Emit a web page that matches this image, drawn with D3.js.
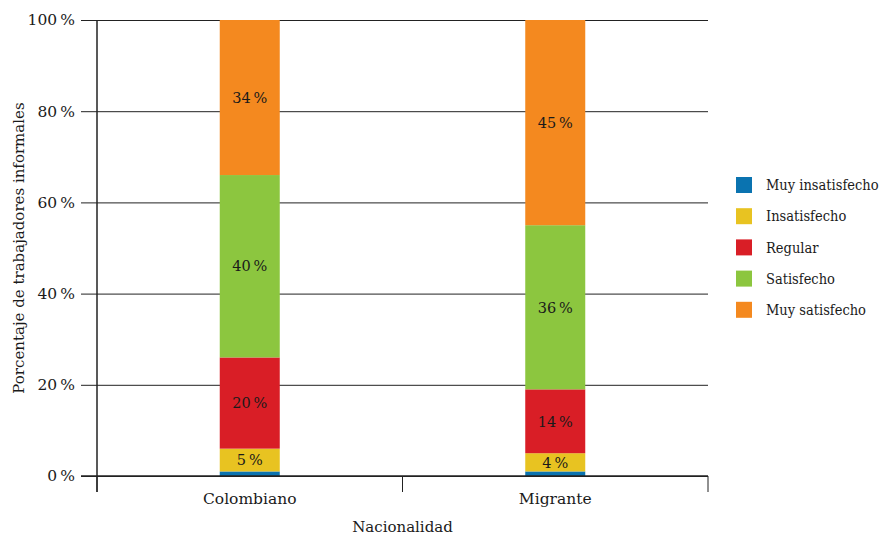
<!DOCTYPE html>
<html>
<head>
<meta charset="utf-8">
<script src="https://cdn.jsdelivr.net/npm/d3@7"></script>
<style>
  html, body { margin: 0; padding: 0; background: #fff; }
  svg text { font-family: "DejaVu Serif", "Liberation Serif", serif; fill: #1a1a1a; }
  svg .legend text { font-family: "DejaVu Serif Condensed", "DejaVu Serif", serif; font-stretch: condensed; }
</style>
</head>
<body>
<svg id="chart" width="884" height="537"></svg>
<script>
// Satisfacción laboral de trabajadores informales según nacionalidad (%)
const categories = ["Colombiano", "Migrante"];
const seriesNames = ["Muy insatisfecho", "Insatisfecho", "Regular", "Satisfecho", "Muy satisfecho"];
const muyInsatisfecho = [1, 1];
const insatisfecho = [5, 4];
const regular = [20, 14];
const satisfecho = [40, 36];
const muySatisfecho = [34, 45];
const seriesColors = ["#0a73b0", "#e8c321", "#d91e26", "#8cc63f", "#f4891f"];
const yTicks = [0, 20, 40, 60, 80, 100];
// the thinnest layer carries no printed label
const labelled = [false, true, true, true, true];

const seriesValues = [muyInsatisfecho, insatisfecho, regular, satisfecho, muySatisfecho];
const rows = categories.map((c, i) => {
  const r = { cat: c };
  seriesNames.forEach((s, k) => { r[s] = seriesValues[k][i]; });
  return r;
});

const svg = d3.select("#chart");
const margin = { left: 97, right: 176, top: 20, bottom: 61 };
const W = 884, H = 537;
const x0 = margin.left, x1 = W - margin.right;
const y0 = H - margin.bottom, y1 = margin.top;

const x = d3.scaleBand().domain(categories).range([x0, x1]).paddingInner(0).paddingOuter(0);
const y = d3.scaleLinear().domain([0, 100]).range([y0, y1]);
const barW = 60;

// horizontal gridlines with tick marks extending left of the axis
const yAxis = d3.axisLeft(y).tickValues(yTicks).tickSize(-(x1 - x0) - 16)
  .tickFormat(d => d + "\u202f%").tickPadding(6);
const gy = svg.append("g").attr("transform", `translate(${x0 - 16},0)`).call(yAxis);
gy.select(".domain").remove();
gy.selectAll(".tick line").attr("stroke", "#222").attr("stroke-width", 1);
gy.selectAll(".tick text").attr("font-size", 15.5).attr("fill", "#1a1a1a");

// stacked bars
const stack = d3.stack().keys(seriesNames);
const layers = stack(rows);
const gBars = svg.append("g");
layers.forEach((layer, k) => {
  gBars.selectAll(null).data(layer).enter().append("rect")
    .attr("x", d => x(d.data.cat) + x.bandwidth() / 2 - barW / 2)
    .attr("width", barW)
    .attr("y", d => y(d[1]))
    .attr("height", d => y(d[0]) - y(d[1]))
    .attr("fill", seriesColors[k]);
  if (labelled[k]) {
    gBars.selectAll(null).data(layer).enter().append("text")
      .attr("x", d => x(d.data.cat) + x.bandwidth() / 2)
      .attr("y", d => (y(d[0]) + y(d[1])) / 2)
      .attr("dy", "0.36em")
      .attr("text-anchor", "middle")
      .attr("font-size", 14.5)
      .text(d => (d[1] - d[0]) + "\u202f%");
  }
});

// bottom axis on top of bars
const xAxis = d3.axisBottom(x).tickSize(0).tickPadding(17);
const gx = svg.append("g").attr("transform", `translate(0,${y0})`).call(xAxis);
gx.select(".domain").remove();
gx.selectAll(".tick text").attr("font-size", 15.5).attr("fill", "#1a1a1a");
svg.append("line").attr("x1", x0 - 16).attr("x2", x1).attr("y1", y0).attr("y2", y0)
  .attr("stroke", "#222").attr("stroke-width", 1.5);
// band boundary ticks
const bounds = [x0].concat(categories.map(c => x(c) + x.bandwidth()));
svg.selectAll(null).data(bounds).enter().append("line")
  .attr("x1", d => d).attr("x2", d => d)
  .attr("y1", y0).attr("y2", y0 + 16)
  .attr("stroke", "#222").attr("stroke-width", 1);
// vertical axis line
svg.append("line").attr("x1", x0).attr("x2", x0).attr("y1", y1).attr("y2", y0 + 16)
  .attr("stroke", "#222").attr("stroke-width", 1.5);

// axis titles
svg.append("text").attr("x", (x0 + x1) / 2).attr("y", 532)
  .attr("text-anchor", "middle").attr("font-size", 15).text("Nacionalidad");
svg.append("text")
  .attr("transform", `translate(24,${(y0 + y1) / 2}) rotate(-90)`)
  .attr("text-anchor", "middle").attr("font-size", 15)
  .text("Porcentaje de trabajadores informales");

// legend
const lg = svg.append("g").attr("class", "legend").attr("transform", "translate(736,177)");
seriesNames.forEach((s, k) => {
  const g = lg.append("g").attr("transform", `translate(0,${k * 31.2})`);
  g.append("rect").attr("width", 16).attr("height", 16).attr("fill", seriesColors[k]);
  g.append("text").attr("x", 30).attr("y", 8).attr("dy", "0.36em")
    .attr("font-size", 14.5).text(s);
});
</script>
</body>
</html>
